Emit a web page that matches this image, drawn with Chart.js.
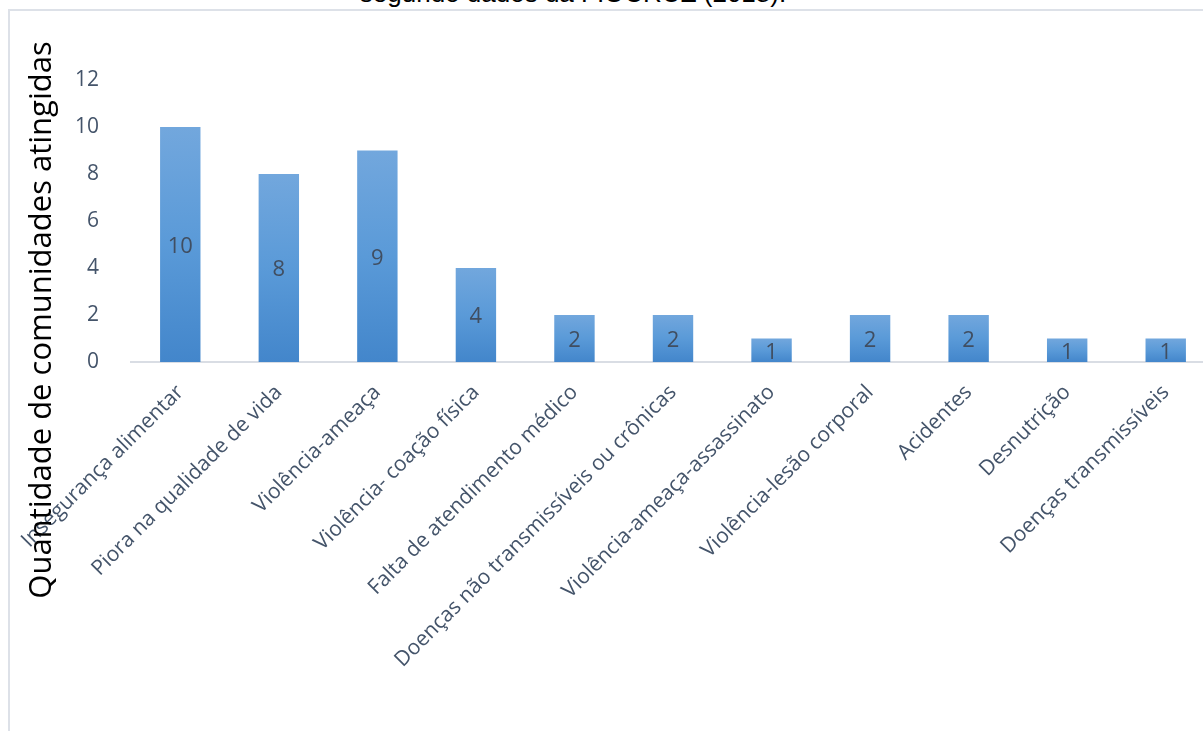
<!DOCTYPE html>
<html>
<head>
<meta charset="utf-8">
<script src="https://cdn.jsdelivr.net/npm/chart.js@4.4.1/dist/chart.umd.min.js"></script>
<style>
    html, body { margin: 0; padding: 0; background: #fff; overflow: hidden; }
    #titulo {
        position: absolute; left: 0; width: 1146px; top: -22px;
        text-align: center; font-family: "Liberation Sans", Arial, sans-serif;
        font-size: 26px; color: #000; line-height: 30px;
    }
    #moldura {
        position: absolute; left: 8px; top: 9px; width: 1300px; height: 800px;
        border: 2px solid #dde1e8; background: #fff;
    }
    #wrap { position: absolute; left: 0; top: 0; width: 1215px; height: 731px; }
</style>
</head>
<body>
<div id="titulo">segundo dados da FIOCRUZ (2018).</div>
<div id="moldura"></div>
<div id="wrap"><canvas id="grafico" width="1215" height="731"></canvas></div>
<script>
// dados do grafico
var categorias = ["Insegurança alimentar", "Piora na qualidade de vida", "Violência-ameaça", "Violência- coação física",
    "Falta de atendimento médico", "Doenças não transmissíveis ou crônicas", "Violência-ameaça-assassinato",
    "Violência-lesão corporal", "Acidentes", "Desnutrição", "Doenças transmissíveis"];
var comunidades = [10, 8, 9, 4, 2, 2, 1, 2, 2, 1, 1];
var ticksY = [0, 2, 4, 6, 8, 10, 12];
var tituloY = "Quantidade de comunidades atingidas";

// gradiente de cada barra (claro em cima, escuro embaixo)
function corBarra(context) {
    var chart = context.chart;
    var y = chart.scales.y;
    if (!chart.chartArea || !y || context.parsed === undefined) return '#5b9bd5';
    var topo = y.getPixelForValue(context.parsed.y);
    var base = y.getPixelForValue(0);
    var g = chart.ctx.createLinearGradient(0, topo, 0, base);
    g.addColorStop(0, '#72a7dd');
    g.addColorStop(0.5, '#5a9ad8');
    g.addColorStop(1, '#4386cb');
    return g;
}

// rotulo dentro das barras + titulo do eixo y
var extras = {
    id: 'extras',
    afterDatasetsDraw: function (chart) {
        var ctx = chart.ctx;
        var meta = chart.getDatasetMeta(0);
        ctx.save();
        ctx.font = '22px "Open Sans"';
        ctx.fillStyle = '#404e61';
        ctx.textAlign = 'center';
        ctx.textBaseline = 'middle';
        meta.data.forEach(function (bar, i) {
            ctx.fillText(String(comunidades[i]), bar.x, (bar.y + bar.base) / 2 + 2);
        });
        ctx.restore();

        ctx.save();
        ctx.translate(42, 320);
        ctx.rotate(-Math.PI / 2);
        ctx.font = '31px "Open Sans"';
        ctx.fillStyle = '#000';
        ctx.textAlign = 'center';
        ctx.textBaseline = 'middle';
        ctx.fillText(tituloY, 0, 0);
        ctx.restore();
    }
};

new Chart(document.getElementById("grafico").getContext("2d"), {
    type: "bar",
    data: {
        labels: categorias,
        datasets: [{
            label: "Comunidades",
            data: comunidades,
            backgroundColor: corBarra,
            borderWidth: 0,
            barPercentage: 0.41,
            categoryPercentage: 1
        }]
    },
    options: {
        responsive: false,
        animation: false,
        layout: { padding: { top: 80, left: 0, right: 0, bottom: 0 } },
        plugins: {
            legend: { display: false },
            tooltip: { enabled: false }
        },
        scales: {
            y: {
                min: 0,
                max: 12,
                afterBuildTicks: function (scale) {
                    scale.ticks = ticksY.map(function (v) { return { value: v }; });
                },
                afterFit: function (scale) {
                    scale.width = 131;
                    scale.paddingTop = 0;
                    scale.paddingBottom = 0;
                },
                grid: { display: false },
                border: { display: false },
                ticks: {
                    padding: 24,
                    color: '#44546a',
                    font: { size: 21, family: "Open Sans" }
                }
            },
            x: {
                afterFit: function (scale) {
                    scale.height = 369;
                    scale.paddingLeft = 0;
                    scale.paddingRight = 0;
                },
                grid: { display: false },
                border: { display: true, color: '#d9dde4', width: 2 },
                ticks: {
                    autoSkip: false,
                    maxRotation: 45,
                    minRotation: 45,
                    padding: 10,
                    color: '#44546a',
                    font: { size: 21, family: "Open Sans" }
                }
            }
        }
    },
    plugins: [extras]
});
</script>
</body>
</html>
